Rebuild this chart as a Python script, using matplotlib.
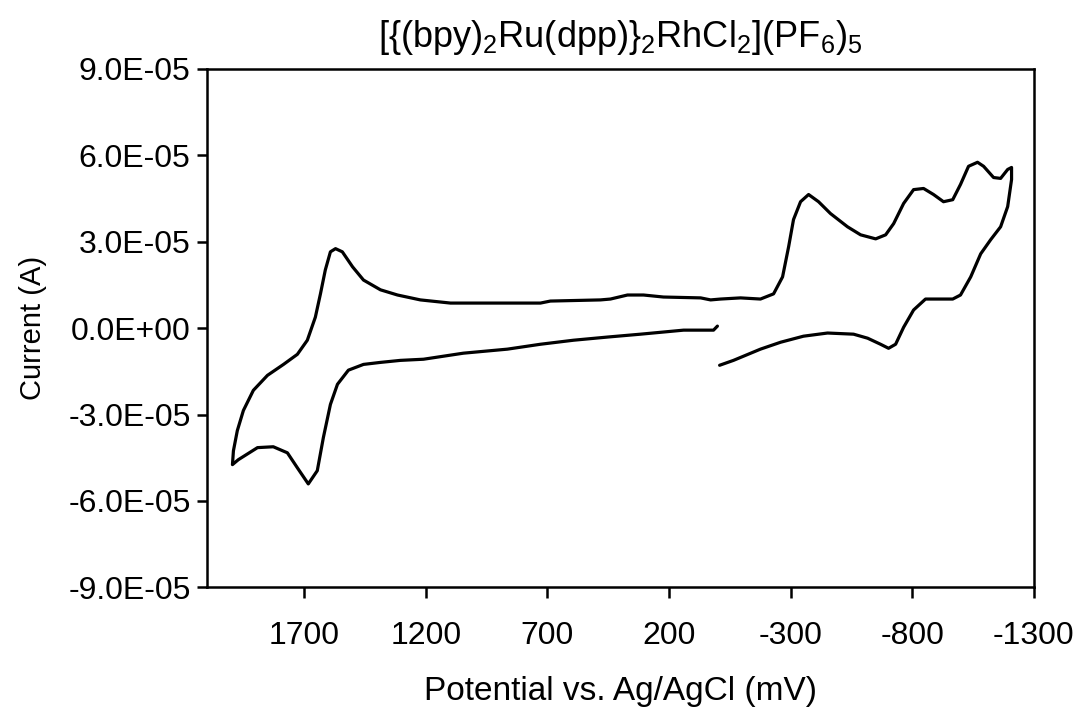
import matplotlib
matplotlib.use("Agg")
import matplotlib.pyplot as plt
import numpy as np

plt.rcParams['font.family'] = ['Liberation Sans', 'DejaVu Sans']
plt.rcParams['mathtext.fontset'] = 'custom'
plt.rcParams['mathtext.rm'] = 'Liberation Sans'
plt.rcParams['mathtext.it'] = 'Liberation Sans'
plt.rcParams['mathtext.bf'] = 'Liberation Sans'

# Potential (mV) along the scan, and current (units of 1e-5 A)
potential_mV = [
    -8, -65, -176, -259, -353, -452, -559, -617, -670, -703, -732, -765, -806,
    -855, -905, -967, -999, -1041, -1082, -1123, -1164, -1193, -1209, -1209,
    -1193, -1164, -1135, -1094, -1069, -1032, -999, -967, -929, -888, -847, -806,
    -765, -724, -691, -650, -588, -534, -464, -415, -374, -341, -312, -292, -267,
    -230, -176, -94, -12, 29, 70, 223, 305, 371, 441, 482, 688, 729, 1099, 1223,
    1317, 1387, 1457, 1502, 1544, 1572, 1593, 1614, 1634, 1655, 1688, 1729, 1786,
    1852, 1910, 1951, 1976, 1992, 1996, 1972, 1893, 1828, 1770, 1729, 1684, 1647,
    1622, 1593, 1564, 1519, 1457, 1387, 1305, 1210, 1046, 865, 729, 593, 453, 317,
    140, 17, 1,
]
current_1e5A = [
    -1.29, -1.12, -0.73, -0.49, -0.28, -0.17, -0.21, -0.35, -0.56, -0.70, -0.56,
    0.03, 0.63, 1.01, 1.01, 1.01, 1.15, 1.78, 2.58, 3.07, 3.52, 4.22, 5.16, 5.58,
    5.51, 5.20, 5.23, 5.62, 5.76, 5.62, 4.99, 4.46, 4.39, 4.64, 4.85, 4.81, 4.33,
    3.63, 3.24, 3.10, 3.24, 3.52, 3.98, 4.39, 4.64, 4.39, 3.77, 2.83, 1.78, 1.19,
    1.01, 1.05, 1.01, 0.98, 1.05, 1.08, 1.15, 1.15, 1.01, 0.98, 0.94, 0.87, 0.87,
    0.98, 1.15, 1.33, 1.67, 2.13, 2.65, 2.76, 2.65, 2.02, 1.19, 0.38, -0.42,
    -0.91, -1.26, -1.64, -2.16, -2.86, -3.56, -4.26, -4.74, -4.57, -4.15, -4.12,
    -4.33, -4.85, -5.41, -4.95, -3.80, -2.65, -1.95, -1.46, -1.26, -1.19, -1.12,
    -1.08, -0.87, -0.73, -0.56, -0.42, -0.31, -0.21, -0.07, -0.07, 0.07,
]

x_ticks = [1700, 1200, 700, 200, -300, -800, -1300]
y_ticks = [9e-5, 6e-5, 3e-5, 0.0, -3e-5, -6e-5, -9e-5]
y_tick_labels = ['9.0E-05', '6.0E-05', '3.0E-05', '0.0E+00', '-3.0E-05', '-6.0E-05', '-9.0E-05']

title = r'[{(bpy)$_2$Ru(dpp)}$_2$RhCl$_2$](PF$_6$)$_5$'
x_label = 'Potential vs. Ag/AgCl (mV)'
y_label = 'Current (A)'

fig = plt.figure(figsize=(10.79, 7.11), dpi=100)
ax = fig.add_axes([0.192, 0.174, 0.766, 0.729])

x = np.array(potential_mV)
y = np.array(current_1e5A) * 1e-5
ax.plot(x, y, color='black', linewidth=2.3, solid_joinstyle='round', solid_capstyle='round')

ax.set_xlim(2100, -1300)
ax.set_ylim(-9e-5, 9e-5)
ax.set_xticks(x_ticks)
ax.set_xticklabels([str(v) for v in x_ticks])
ax.set_yticks(y_ticks)
ax.set_yticklabels(y_tick_labels)

for s in ax.spines.values():
    s.set_linewidth(1.8)
    s.set_color('black')

ax.tick_params(axis='both', direction='out', width=1.8, labelsize=23, colors='black')
ax.tick_params(axis='x', length=8, pad=16)
ax.tick_params(axis='y', length=7, pad=5)

ax.set_xlabel(x_label, fontsize=24, labelpad=18)
ax.set_ylabel(y_label, fontsize=21, labelpad=15)
ax.set_title(title, fontsize=26, pad=16)

fig.savefig('out.png', dpi=100, facecolor='white')
